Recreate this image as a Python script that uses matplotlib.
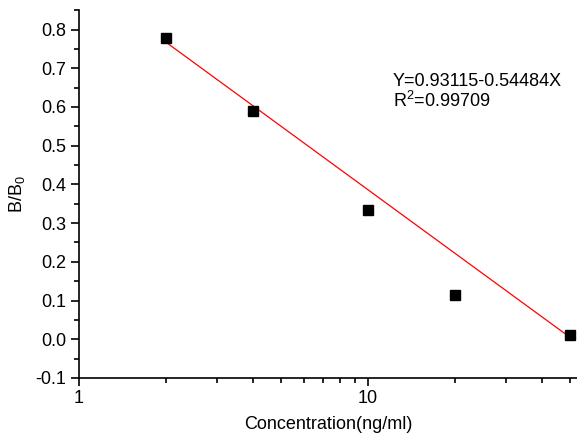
import numpy as np
import matplotlib
matplotlib.use('Agg')
import matplotlib.pyplot as plt
from matplotlib.ticker import LogLocator, FixedLocator, MultipleLocator, NullFormatter

plt.rcParams['font.family'] = ['Liberation Sans', 'DejaVu Sans']
plt.rcParams['mathtext.fontset'] = 'custom'
plt.rcParams['mathtext.rm'] = 'Liberation Sans'

# 数据
conc = [2, 4, 10, 20, 50]
ratio = [0.778, 0.59, 0.335, 0.114, 0.01]
intercept = 0.93115
slope = -0.54484

fig = plt.figure(figsize=(5.77, 4.41), dpi=100)
ax = fig.add_axes([0.137, 0.143, 0.863, 0.834])

xfit = np.array([min(conc), max(conc)])
ax.plot(xfit, intercept + slope * np.log10(xfit), color='red', lw=0.9)
ax.plot(conc, ratio, 's', color='black', ms=6.5, zorder=3)

ax.set_xscale('log')
ax.set_xlim(1, 53)
ax.set_ylim(-0.1, 0.85)
ax.xaxis.set_major_locator(FixedLocator([1, 10]))
ax.xaxis.set_major_formatter(matplotlib.ticker.FixedFormatter(['1', '10']))
ax.xaxis.set_minor_locator(LogLocator(base=10, subs=np.arange(2, 10)))
ax.xaxis.set_minor_formatter(NullFormatter())
ax.yaxis.set_major_locator(MultipleLocator(0.1))
ax.yaxis.set_minor_locator(MultipleLocator(0.05))
ax.yaxis.set_major_formatter(matplotlib.ticker.FormatStrFormatter('%.1f'))

for s in ['top', 'right']:
    ax.spines[s].set_visible(False)
for s in ['left', 'bottom']:
    ax.spines[s].set_linewidth(1.2)
ax.tick_params(which='major', direction='out', length=6, width=1.2, labelsize=13, pad=3)
ax.tick_params(which='minor', direction='out', length=3.5, width=1.2)

ax.set_xlabel('Concentration(ng/ml)', fontsize=13, labelpad=6)
ax.set_ylabel('B/B$_0$', fontsize=13, labelpad=6)

ax.text(0.63, 0.795, 'Y=0.93115-0.54484X', transform=ax.transAxes, fontsize=13, va='baseline')
ax.text(0.63, 0.736, 'R$^2$=0.99709', transform=ax.transAxes, fontsize=13, va='baseline')

plt.savefig('out.png', dpi=100)
